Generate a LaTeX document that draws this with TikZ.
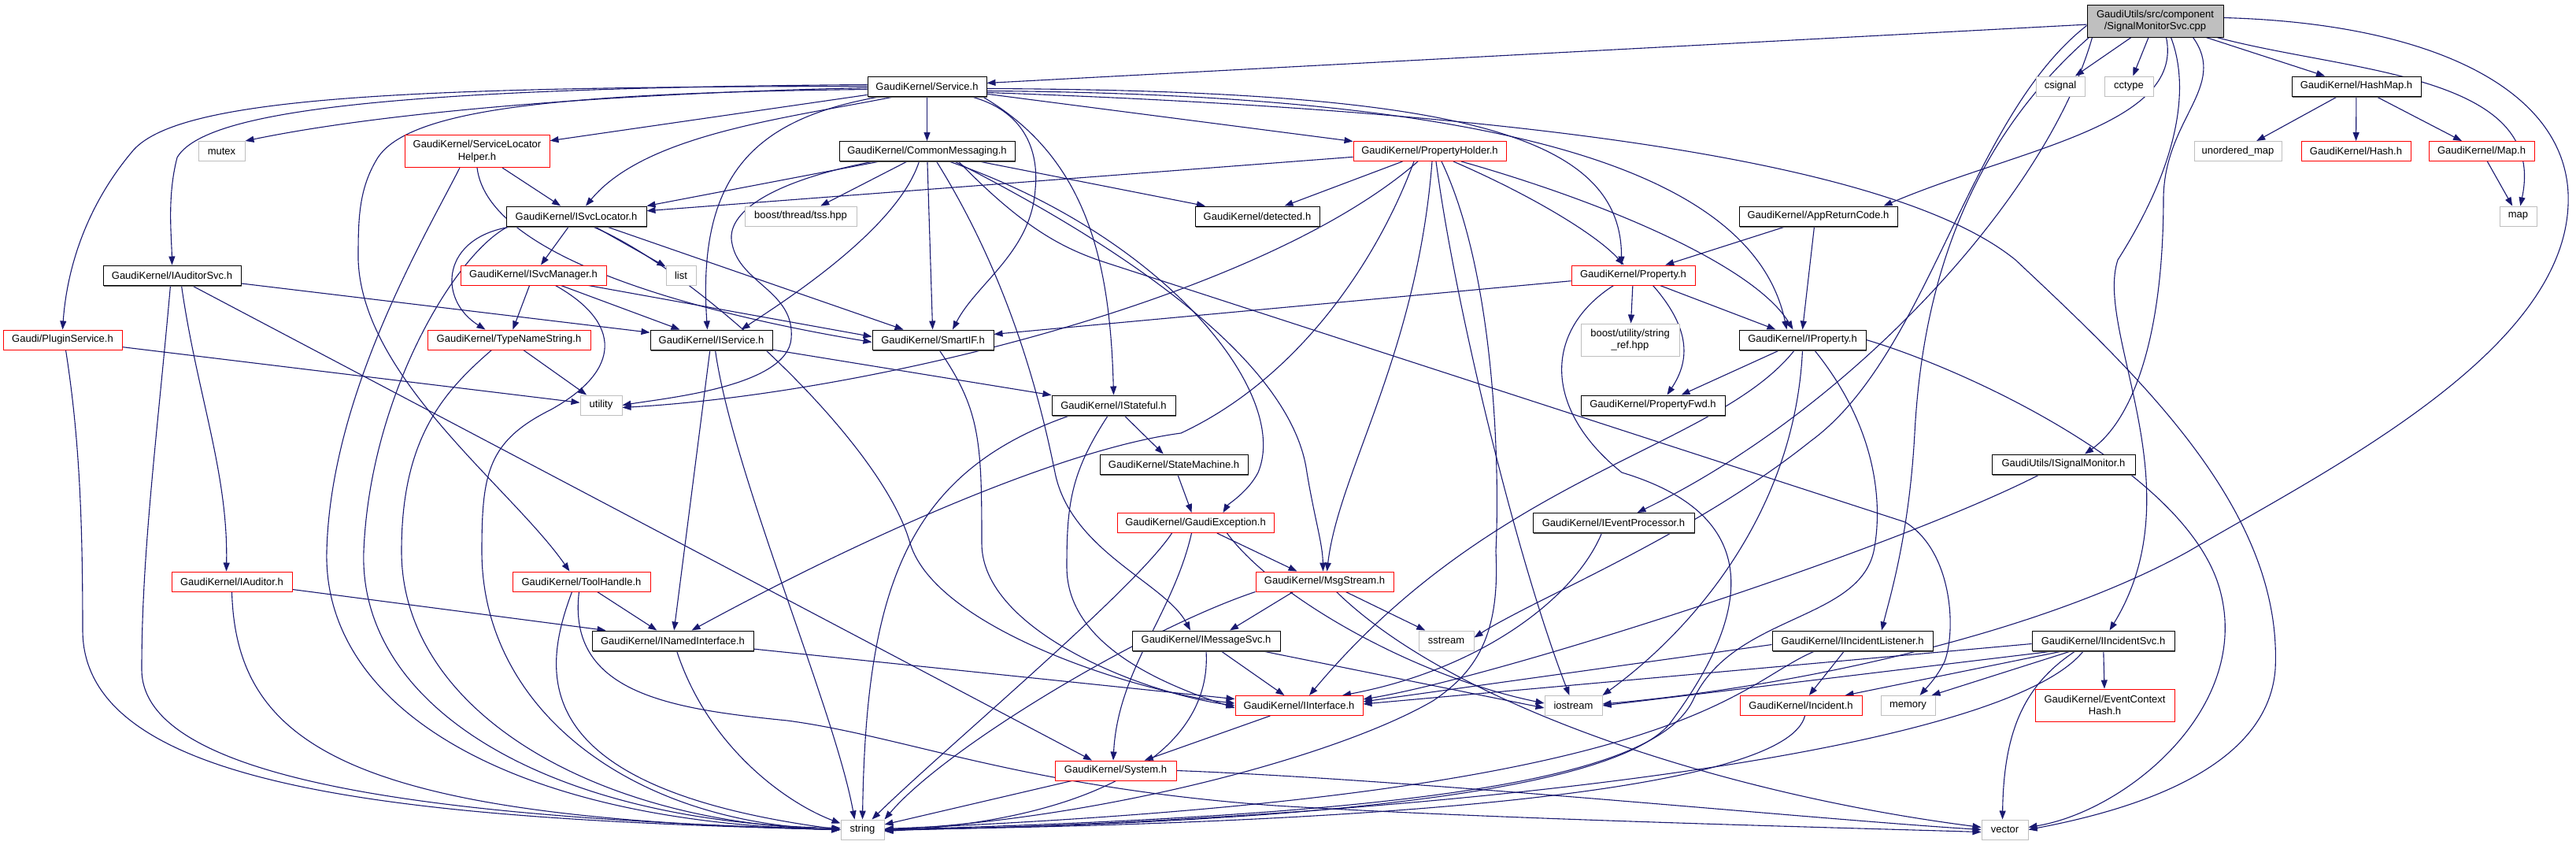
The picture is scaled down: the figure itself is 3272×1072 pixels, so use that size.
\documentclass[tikz,border=0pt]{standalone}
\usepackage{fontspec}
\setmainfont{Liberation Sans}
\usetikzlibrary{arrows.meta,shadows}
\definecolor{edgec}{HTML}{191970}
\definecolor{grayb}{HTML}{BFBFBF}
\definecolor{redb}{HTML}{FF0000}
\definecolor{rootf}{HTML}{BFBFBF}
\pgfdeclarelayer{bg}
\pgfsetlayers{bg,main}
\newcommand\mknode[6]{\node[#1,minimum width=#5pt] (#2) at (#3,-#4) {#6};}
\begin{document}
\begin{tikzpicture}[x=1pt,y=1pt,
  box/.style={rectangle,inner sep=0pt,minimum height=25pt,align=center,fill=white,line width=1pt,font=\fontsize{13}{15.5}\selectfont},
  bk/.style={box,draw=black,drop shadow={shadow xshift=1.2pt,shadow yshift=-1.5pt,fill=black!60,opacity=1}},
  rd/.style={box,draw=redb},
  rdtwo/.style={box,draw=redb,minimum height=41pt},
  gy/.style={box,draw=grayb},
  gytwo/.style={box,draw=grayb,minimum height=41pt},
  rootn/.style={box,draw=black,fill=rootf,minimum height=41pt},
  dep/.style={draw=edgec,line width=1.1pt,-{Triangle[length=11pt,width=8pt]}}]
\useasboundingbox (0,0) rectangle (3272,-1072);
% nodes
\mknode{rootn}{root}{2737.5}{26.5}{173}{GaudiUtils/src/component\\/SignalMonitorSvc.cpp}
\mknode{bk}{Service}{1177.5}{109.5}{151}{GaudiKernel/Service.h}
\mknode{gy}{csignal}{2617}{109.5}{62}{csignal}
\mknode{gy}{cctype}{2704}{109.5}{62}{cctype}
\mknode{bk}{HashMap}{2993}{109.5}{164}{GaudiKernel/HashMap.h}
\mknode{gy}{mutex}{281.5}{192}{59}{mutex}
\mknode{rdtwo}{SLH}{606}{192}{184}{GaudiKernel/ServiceLocator\\Helper.h}
\mknode{bk}{CM}{1177.5}{192}{223}{GaudiKernel/CommonMessaging.h}
\mknode{rd}{PH}{1816}{192}{194}{GaudiKernel/PropertyHolder.h}
\mknode{gy}{umap}{2842.5}{192}{111}{unordered\_map}
\mknode{rd}{Hash}{2992.5}{192}{139}{GaudiKernel/Hash.h}
\mknode{rd}{Map}{3152}{192}{134}{GaudiKernel/Map.h}
\mknode{bk}{ISL}{732}{274.5}{178}{GaudiKernel/ISvcLocator.h}
\mknode{gy}{tss}{1017}{274.5}{142}{boost/thread/tss.hpp}
\mknode{bk}{det}{1597}{274.5}{158}{GaudiKernel/detected.h}
\mknode{bk}{ARC}{2309.5}{274.5}{201}{GaudiKernel/AppReturnCode.h}
\mknode{gy}{mapn}{3198.5}{274.5}{47}{map}
\mknode{bk}{IAS}{218.5}{349.5}{175}{GaudiKernel/IAuditorSvc.h}
\mknode{rd}{ISM}{677.5}{349.5}{185}{GaudiKernel/ISvcManager.h}
\mknode{gy}{list}{865}{349.5}{38}{list}
\mknode{rd}{Prop}{2074.5}{349.5}{157}{GaudiKernel/Property.h}
\mknode{rd}{PS}{79.5}{431.5}{151}{Gaudi/PluginService.h}
\mknode{rd}{TNS}{646.5}{431.5}{207}{GaudiKernel/TypeNameString.h}
\mknode{bk}{IS}{903.5}{431.5}{155}{GaudiKernel/IService.h}
\mknode{bk}{SIF}{1185}{431.5}{154}{GaudiKernel/SmartIF.h}
\mknode{gytwo}{sref}{2070.5}{431.5}{125}{boost/utility/string\\\_ref.hpp}
\mknode{bk}{IP}{2289.5}{431.5}{161}{GaudiKernel/IProperty.h}
\mknode{gy}{util}{763.5}{514.5}{53}{utility}
\mknode{bk}{IStf}{1414.5}{514.5}{157}{GaudiKernel/IStateful.h}
\mknode{bk}{PFwd}{2099.5}{514.5}{183}{GaudiKernel/PropertyFwd.h}
\mknode{bk}{SM}{1491}{589.5}{188}{GaudiKernel/StateMachine.h}
\mknode{bk}{ISig}{2621}{589.5}{182}{GaudiUtils/ISignalMonitor.h}
\mknode{rd}{GE}{1518.5}{664}{199}{GaudiKernel/GaudiException.h}
\mknode{bk}{IEP}{2049.5}{664}{205}{GaudiKernel/IEventProcessor.h}
\mknode{rd}{IAud}{294.5}{738.5}{153}{GaudiKernel/IAuditor.h}
\mknode{rd}{TH}{738.5}{738.5}{175}{GaudiKernel/ToolHandle.h}
\mknode{rd}{MS}{1682.5}{738.5}{175}{GaudiKernel/MsgStream.h}
\mknode{bk}{INI}{854.5}{813.5}{205}{GaudiKernel/INamedInterface.h}
\mknode{bk}{IMS}{1532}{813.5}{188}{GaudiKernel/IMessageSvc.h}
\mknode{gy}{sstr}{1837}{813.5}{70}{sstream}
\mknode{bk}{IIL}{2353}{813.5}{204}{GaudiKernel/IIncidentListener.h}
\mknode{bk}{IIS}{2671.5}{813.5}{181}{GaudiKernel/IIncidentSvc.h}
\mknode{rd}{II}{1650}{896}{162}{GaudiKernel/IInterface.h}
\mknode{gy}{iostr}{1998.5}{896}{73}{iostream}
\mknode{rd}{Inc}{2287.5}{896}{155}{GaudiKernel/Incident.h}
\mknode{gy}{mem}{2423.5}{896}{69}{memory}
\mknode{rdtwo}{ECH}{2673.5}{895.5}{177}{GaudiKernel/EventContext\\Hash.h}
\mknode{rd}{Sys}{1417}{978.5}{154}{GaudiKernel/System.h}
\mknode{gy}{str}{1095.5}{1053.5}{55}{string}
\mknode{gy}{vec}{2546.5}{1053.5}{59}{vector}
\begin{pgfonlayer}{bg}
% root
\draw[dep] (root) -- (Service);
\draw[dep] (root) -- (csignal);
\draw[dep] (root) -- (cctype);
\draw[dep] (root) -- (HashMap);
\draw[dep] (root) to[out=-15,in=78] (mapn);
\draw[dep] ([yshift=4pt]root.east) .. controls (3100,-30) and (3268,-120) .. (3262,-260) .. controls (3255,-450) and (2950,-600) .. (2780,-700) .. controls (2600,-800) and (2300,-870) .. ([yshift=2pt]iostr.east);
\draw[dep] ([xshift=14pt]root.south) .. controls (2775,-160) and (2560,-190) .. ([xshift=-18pt]ARC.north east);
\draw[dep] ([xshift=-80pt]root.south) .. controls (2600,-250) and (2350,-520) .. ([xshift=30pt]IEP.north);
\draw[dep] ([xshift=20pt]root.south) .. controls (2785,-120) and (2760,-220) .. (2690,-330) .. controls (2660,-420) and (2790,-620) .. ([xshift=8pt]IIS.north);
\draw[dep] ([xshift=-84pt]root.south) .. controls (2480,-200) and (2440,-400) .. (2432,-550) .. controls (2425,-680) and (2400,-760) .. ([xshift=37pt]IIL.north);
\draw[dep] ([xshift=48pt]root.south) .. controls (2830,-110) and (2750,-150) .. (2748,-250) .. controls (2748,-450) and (2700,-540) .. ([xshift=27pt]ISig.north);
\draw[dep] ([yshift=-6pt]root.west) .. controls (2500,-150) and (2450,-450) .. (2300,-560) .. controls (2150,-680) and (1950,-760) .. ([yshift=4pt]sstr.east);
% HashMap
\draw[dep] (HashMap) -- (umap);
\draw[dep] (HashMap) -- (Hash);
\draw[dep] (HashMap) -- (Map);
\draw[dep] (Map) -- (mapn);
% Service
\draw[dep] ([yshift=-2pt]Service.west) .. controls (800,-118) and (500,-140) .. (mutex.north east);
\draw[dep] (Service) -- (SLH);
\draw[dep] ([xshift=-40pt]Service.south) .. controls (1000,-150) and (820,-170) .. ([xshift=12pt]ISL.north);
\draw[dep] (Service.west) .. controls (500,-110) and (230,-125) .. (170,-190) .. controls (110,-260) and (85,-340) .. (PS.north);
\draw[dep] ([yshift=2pt]Service.west) .. controls (500,-112) and (260,-140) .. (225,-200) .. controls (212,-250) and (218,-300) .. (IAS.north);
\draw[dep] ([yshift=-4pt]Service.west) .. controls (700,-118) and (520,-140) .. (480,-200) .. controls (455,-240) and (455,-280) .. (455,-330) .. controls (460,-480) and (650,-620) .. ([xshift=-15pt]TH.north);
\draw[dep] (Service) -- (CM);
\draw[dep] ([xshift=-58pt]Service.south) .. controls (960,-150) and (885,-220) .. ([xshift=-5pt]IS.north);
\draw[dep] ([xshift=55pt]Service.south) .. controls (1300,-140) and (1320,-190) .. (1315,-240) .. controls (1310,-320) and (1240,-360) .. ([xshift=25pt]SIF.north);
\draw[dep] ([xshift=70pt]Service.south) .. controls (1380,-200) and (1410,-330) .. (IStf.north);
\draw[dep] (Service) -- (PH);
\draw[dep] ([yshift=-3pt]Service.east) .. controls (1850,-115) and (2060,-170) .. ([xshift=-15pt]Prop.north);
\draw[dep] ([yshift=-6pt]Service.east) .. controls (1950,-120) and (2230,-230) .. ([xshift=-20pt]IP.north);
\draw[dep] ([yshift=-8pt]Service.east) .. controls (1900,-140) and (2400,-200) .. (2560,-330) .. controls (2720,-480) and (2900,-650) .. (2890,-850) .. controls (2880,-980) and (2700,-1030) .. (vec.east);
% CommonMessaging
\draw[dep] ([xshift=-60pt]CM.south) -- (ISL.north east);
\draw[dep] ([xshift=-68pt]CM.south) .. controls (980,-230) and (920,-270) .. (930,-310) .. controls (940,-360) and (1010,-370) .. (1005,-430) .. controls (1000,-490) and (850,-505) .. (util.east);
\draw[dep] (CM) -- (tss);
\draw[dep] ([xshift=-10pt]CM.south) .. controls (1140,-290) and (1000,-380) .. ([xshift=38pt]IS.north);
\draw[dep] (CM) -- (SIF);
\draw[dep] ([xshift=12pt]CM.south) .. controls (1280,-350) and (1320,-500) .. (1340,-600) .. controls (1360,-700) and (1480,-740) .. ([xshift=-20pt]IMS.north);
\draw[dep] ([xshift=35pt]CM.south) .. controls (1400,-300) and (1640,-450) .. (1660,-600) .. controls (1670,-660) and (1680,-690) .. ([xshift=-2pt]MS.north);
\draw[dep] ([xshift=28pt]CM.south) .. controls (1480,-300) and (1640,-500) .. (1598,-600) .. controls (1585,-625) and (1560,-640) .. ([xshift=35pt]GE.north);
\draw[dep] (CM) -- (det);
\draw[dep] ([xshift=40pt]CM.south) .. controls (1300,-290) and (1350,-315) .. (1400,-332) -- (2420,-663) .. controls (2480,-700) and (2485,-800) .. (2470,-840) .. controls (2460,-860) and (2450,-870) .. ([xshift=15pt]mem.north);
% PropertyHolder
\draw[dep] (PH) -- (ISL);
\draw[dep] (PH) -- (det);
\draw[dep] ([xshift=30pt]PH.south) .. controls (1950,-250) and (2030,-300) .. ([xshift=-12pt]Prop.north);
\draw[dep] ([xshift=40pt]PH.south) .. controls (2050,-260) and (2230,-340) .. ([xshift=-12pt]IP.north);
\draw[dep] ([xshift=-15pt]PH.south) .. controls (1600,-380) and (1100,-500) .. ([yshift=-3pt]util.east);
\draw[dep] ([xshift=-20pt]PH.south) .. controls (1750,-330) and (1650,-480) .. (1500,-550) .. controls (1350,-570) and (1100,-680) .. ([xshift=24pt]INI.north);
\draw[dep] ([xshift=3pt]PH.south) .. controls (1800,-450) and (1700,-600) .. ([xshift=3pt]MS.north);
\draw[dep] ([xshift=8pt]PH.south) .. controls (1850,-400) and (1930,-720) .. ([xshift=-5pt]iostr.north);
\draw[dep] ([xshift=15pt]PH.south) .. controls (1900,-350) and (1905,-600) .. (1900,-700) .. controls (1905,-800) and (1880,-850) .. (1820,-890) .. controls (1700,-960) and (1400,-1040) .. (str.east);
% ISvcLocator
\draw[dep] (ISL) -- (ISM);
\draw[dep] (ISL) -- (list);
\draw[dep] ([xshift=-80pt]ISL.south) .. controls (560,-300) and (555,-380) .. ([xshift=-30pt]TNS.north);
\draw[dep] (ISL) -- (SIF);
\draw[dep] ([xshift=20pt]ISL.south) .. controls (880,-340) and (1120,-560) .. (1156,-690) .. controls (1190,-800) and (1450,-880) .. ([yshift=3pt]II.west);
\draw[dep] ([xshift=-86pt]ISL.south) .. controls (580,-320) and (470,-500) .. (462,-700) .. controls (455,-900) and (700,-1045) .. ([yshift=2pt]str.west);
% ServiceLocatorHelper
\draw[dep] (SLH) -- (ISL);
\draw[dep] ([xshift=-22pt]SLH.south) .. controls (540,-300) and (420,-500) .. (415,-700) .. controls (410,-900) and (650,-1045) .. (str.west);
\draw[dep] (SLH.south) .. controls (620,-330) and (900,-400) .. ([yshift=-3pt]SIF.west);
% ISvcManager
\draw[dep] (ISM) -- (TNS);
\draw[dep] (ISM) -- ([xshift=-40pt]IS.north);
\draw[dep] ([xshift=70pt]ISM.south) -- ([yshift=4pt]SIF.west);
\draw[dep] ([xshift=28pt]ISM.south) .. controls (790,-410) and (790,-470) .. (700,-520) .. controls (620,-560) and (612,-600) .. (612,-700) .. controls (612,-900) and (800,-1045) .. (str.west);
% TypeNameString, PluginService
\draw[dep] (TNS) -- (util);
\draw[dep] ([xshift=-22pt]TNS.south) .. controls (560,-500) and (510,-560) .. (510,-700) .. controls (510,-900) and (750,-1045) .. (str.west);
\draw[dep] (PS) -- (util);
\draw[dep] ([xshift=4pt]PS.south) .. controls (100,-550) and (105,-650) .. (105,-800) .. controls (105,-1000) and (500,-1040) .. (str.west);
% IAuditorSvc, IAuditor, ToolHandle
\draw[dep] (IAS) -- (IS);
\draw[dep] ([xshift=12pt]IAS.south) .. controls (250,-500) and (290,-600) .. ([xshift=-7pt]IAud.north);
\draw[dep] ([xshift=25pt]IAS.south) -- ([xshift=-30pt]Sys.north);
\draw[dep] ([xshift=-2pt]IAS.south) .. controls (200,-550) and (180,-700) .. (180,-850) .. controls (180,-1000) and (600,-1040) .. (str.west);
\draw[dep] (IAud) -- ([xshift=-85pt]INI.north);
\draw[dep] (IAud.south) .. controls (300,-950) and (450,-1040) .. (str.west);
\draw[dep] (TH) -- (INI);
\draw[dep] ([xshift=-12pt]TH.south) .. controls (690,-850) and (660,-1000) .. (str.west);
\draw[dep] ([xshift=-3pt]TH.south) .. controls (720,-880) and (850,-900) .. (1000,-915) .. controls (1150,-935) and (1300,-1000) .. (1620,-1023) .. controls (1900,-1040) and (2300,-1050) .. ([yshift=-3pt]vec.west);
% IService, SmartIF, IStateful
\draw[dep] (IS) -- (INI);
\draw[dep] (IS) -- (IStf);
\draw[dep] ([xshift=5pt]IS.south) .. controls (930,-600) and (1060,-900) .. ([xshift=-10pt]str.north);
\draw[dep] ([xshift=8pt]SIF.south) .. controls (1245,-520) and (1247,-560) .. (1247,-690) .. controls (1247,-800) and (1450,-880) .. (II.west);
\draw[dep] (IStf) -- (SM);
\draw[dep] ([xshift=-7pt]IStf.south) .. controls (1360,-600) and (1355,-640) .. (1355,-720) .. controls (1355,-820) and (1480,-870) .. ([yshift=-3pt]II.west);
\draw[dep] ([xshift=-55pt]IStf.south) .. controls (1150,-600) and (1100,-750) .. (str.north);
\draw[dep] (SM) -- (GE);
% GaudiException, MsgStream, IMessageSvc
\draw[dep] (GE) -- ([xshift=-35pt]MS.north);
\draw[dep] ([xshift=-5pt]GE.south) .. controls (1490,-780) and (1420,-850) .. ([xshift=-3pt]Sys.north);
\draw[dep] ([xshift=-30pt]GE.south) .. controls (1440,-750) and (1200,-950) .. ([xshift=12pt]str.north);
\draw[dep] ([xshift=40pt]GE.south) .. controls (1620,-760) and (1800,-860) .. ([yshift=3pt]iostr.west);
\draw[dep] ([xshift=-40pt]MS.south) -- ([xshift=30pt]IMS.north);
\draw[dep] (MS) -- (sstr);
\draw[dep] (MS.south west) .. controls (1450,-800) and (1200,-950) .. (str.north east);
\draw[dep] ([xshift=15pt]MS.south) .. controls (1850,-900) and (2200,-1010) .. ([yshift=3pt]vec.west);
\draw[dep] (IMS) -- (II);
\draw[dep] ([xshift=70pt]IMS.south) -- ([yshift=-3pt]iostr.west);
\draw[dep] (IMS.south) .. controls (1540,-950) and (1400,-1040) .. ([yshift=-2pt]str.east);
% INamedInterface, IInterface, System
\draw[dep] (INI) -- (II);
\draw[dep] ([xshift=5pt]INI.south) .. controls (900,-950) and (1000,-1020) .. ([yshift=8pt]str.west);
\draw[dep] (II) -- (Sys);
\draw[dep] (Sys) -- (str);
\draw[dep] (Sys.east) .. controls (1800,-990) and (2300,-1040) .. (vec.west);
% IProperty, Property, AppReturnCode
\draw[dep] (IP) -- ([xshift=36pt]PFwd.north);
\draw[dep] ([xshift=-10pt]IP.south) .. controls (2180,-570) and (1900,-600) .. ([xshift=13pt]II.north);
\draw[dep] (IP.south) .. controls (2280,-650) and (2150,-800) .. (iostr.north east);
\draw[dep] ([xshift=15pt]IP.south) .. controls (2390,-550) and (2390,-650) .. (2380,-700) .. controls (2360,-790) and (2200,-780) .. (2150,-890) .. controls (2100,-990) and (1800,-1035) .. (str.east);
\draw[dep] (IP.east) .. controls (2500,-470) and (2780,-600) .. (2820,-750) .. controls (2860,-900) and (2700,-1030) .. ([yshift=3pt]vec.east);
\draw[dep] (Prop) -- (IP);
\draw[dep] ([xshift=25pt]Prop.south) .. controls (2150,-420) and (2145,-460) .. ([xshift=18pt]PFwd.north);
\draw[dep] (Prop) -- (sref);
\draw[dep] (Prop) -- (SIF);
\draw[dep] ([xshift=-25pt]Prop.south) .. controls (1960,-420) and (1960,-520) .. (2060,-600) .. controls (2260,-660) and (2210,-800) .. (2120,-920) .. controls (2050,-1000) and (1700,-1045) .. (str.east);
\draw[dep] (ARC) -- (Prop);
\draw[dep] ([xshift=-5pt]ARC.south) -- (IP.north);
% IEventProcessor, ISignalMonitor
\draw[dep] ([xshift=-15pt]IEP.south) .. controls (2000,-760) and (1880,-850) .. ([xshift=55pt]II.north);
\draw[dep] ([xshift=-30pt]ISig.south) .. controls (2400,-700) and (1900,-860) .. ([yshift=8pt]II.east);
% IIncidentListener, IIncidentSvc, Incident
\draw[dep] ([yshift=-5pt]IIL.west) -- ([yshift=5pt]II.east);
\draw[dep] (IIL) -- (Inc);
\draw[dep] ([xshift=-47pt]IIL.south) .. controls (2200,-870) and (2150,-1010) .. ([yshift=1pt]str.east);
\draw[dep] ([yshift=-4pt]IIS.west) -- ([yshift=2pt]II.east);
\draw[dep] ([xshift=-60pt]IIS.south) -- (iostr.east);
\draw[dep] ([xshift=-50pt]IIS.south) -- ([xshift=-22pt]Inc.north east);
\draw[dep] ([xshift=-40pt]IIS.south) -- ([xshift=-5pt]mem.north east);
\draw[dep] (IIS) -- (ECH);
\draw[dep] ([xshift=-35pt]IIS.south) .. controls (2570,-870) and (2545,-930) .. ([xshift=-3pt]vec.north);
\draw[dep] ([xshift=-25pt]IIS.south) .. controls (2540,-960) and (1800,-1040) .. ([yshift=-1pt]str.east);
\draw[dep] ([xshift=5pt]Inc.south) .. controls (2270,-1000) and (1800,-1045) .. (str.east);
\end{pgfonlayer}
\end{tikzpicture}
\end{document}
